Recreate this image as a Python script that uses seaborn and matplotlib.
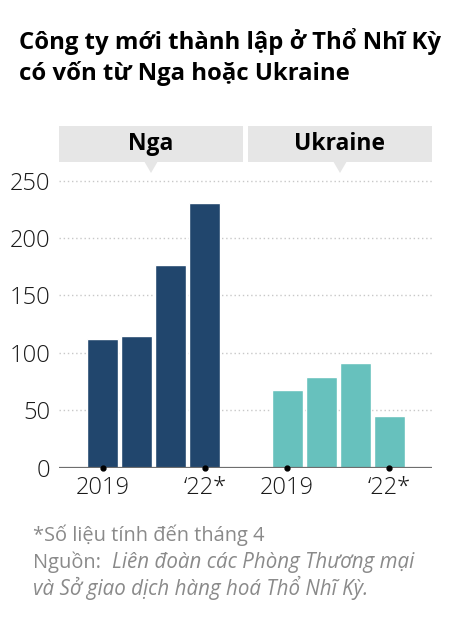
import pandas as pd
import matplotlib.pyplot as plt
from matplotlib.patches import Rectangle, Polygon
import seaborn as sns

# Data
years = ['2019', '2020', '2021', '2022']
nga = [112, 115, 177, 231]
ukraine = [68, 79, 91, 45]
groups = ['Nga', 'Ukraine']
tick_labels = ['2019', '\u201822*']
colors = {'Nga': '#21466d', 'Ukraine': '#67c1bd'}

GROUP_STEP = 5.42  # distance between the first bar of each group

rows = []
for g, (name, vals) in enumerate(zip(groups, [nga, ukraine])):
    for i, (yr, v) in enumerate(zip(years, vals)):
        rows.append({'pos': i + g * GROUP_STEP, 'value': v, 'country': name, 'year': yr})
df = pd.DataFrame(rows)

sns.set_style('white')
plt.rcParams['font.family'] = ['Open Sans', 'DejaVu Sans']

fig = plt.figure(figsize=(4.54, 6.21), dpi=100)
ax = fig.add_axes([0.130, 0.2469, 0.8215, 0.4658])

# dotted grid behind the bars
for yv in [50, 100, 150, 200, 250]:
    ax.axhline(yv, color='#c8c8c8', lw=1, ls=(0, (1, 2)), zorder=0)

sns.barplot(data=df, x='pos', y='value', hue='country', palette=colors,
            native_scale=True, dodge=False, width=0.91, saturation=1,
            legend=False, ax=ax, zorder=2)

ax.axhline(0, color='#6e6e6e', lw=1.6, zorder=3)
ax.set_xlim(-1.29, 9.68)
ax.set_ylim(0, 252)
for s in ax.spines.values():
    s.set_visible(False)
ax.set_xlabel('')
ax.set_ylabel('')

ax.set_yticks([0, 50, 100, 150, 200, 250])
ax.set_yticklabels(['0', '50', '100', '150', '200', '250'])
ax.tick_params(axis='y', length=0, pad=6, labelsize=17, labelcolor='#1a1a1a')
for lab in ax.get_yticklabels():
    lab.set_fontweight('light')

# x ticks: first and last year of each group
xt = []
xl = []
for g in range(len(groups)):
    xt += [g * GROUP_STEP, g * GROUP_STEP + len(years) - 1]
    xl += tick_labels
ax.set_xticks(xt)
ax.set_xticklabels(xl)
ax.tick_params(axis='x', length=0, pad=6, labelsize=17, labelcolor='#1a1a1a')
for lab in ax.get_xticklabels():
    lab.set_fontweight('light')
ax.plot(xt, [0] * len(xt), 'o', color='black', ms=3.5, clip_on=False, zorder=4)

# header boxes with pointers (figure pixel coordinates)
W, H = 454, 621
def fx(px):
    return px / W
def fy(py):
    return 1 - py / H

boxes = [(59, 243, 151), (248, 432, 340)]
for (x0, x1, xc), name in zip(boxes, groups):
    fig.patches.append(Rectangle((fx(x0), fy(162)), fx(x1) - fx(x0), fy(126) - fy(162),
                                 transform=fig.transFigure, color='#e6e6e6', lw=0))
    fig.patches.append(Polygon([(fx(xc - 7), fy(161)), (fx(xc + 7), fy(161)), (fx(xc), fy(173))],
                               closed=True, transform=fig.transFigure, color='#e6e6e6', lw=0))
    fig.text(fx(xc), fy(144), name, ha='center', va='center', fontsize=16.5,
             fontweight='bold', color='black')

title_lines = ['Công ty mới thành lập ở Thổ Nhĩ Kỳ', 'có vốn từ Nga hoặc Ukraine']
for line, base in zip(title_lines, [49, 80]):
    fig.text(fx(19), fy(base), line, ha='left', va='baseline', fontsize=17.2,
             fontweight='bold', color='black')

grey = '#8a8a8a'
fs = 14.4
fig.text(fx(33), fy(541), '*Số liệu tính đến tháng 4', ha='left', va='baseline',
         fontsize=fs, color=grey)
fig.text(fx(33), fy(568), 'Nguồn:', ha='left', va='baseline', fontsize=fs, color=grey)
fig.text(fx(112), fy(568), 'Liên đoàn các Phòng Thương mại', ha='left', va='baseline',
         fontsize=fs + 0.4, color=grey, style='italic')
fig.text(fx(33), fy(595), 'và Sở giao dịch hàng hoá Thổ Nhĩ Kỳ.', ha='left', va='baseline',
         fontsize=fs + 0.4, color=grey, style='italic')

fig.savefig('out.png', dpi=100)
